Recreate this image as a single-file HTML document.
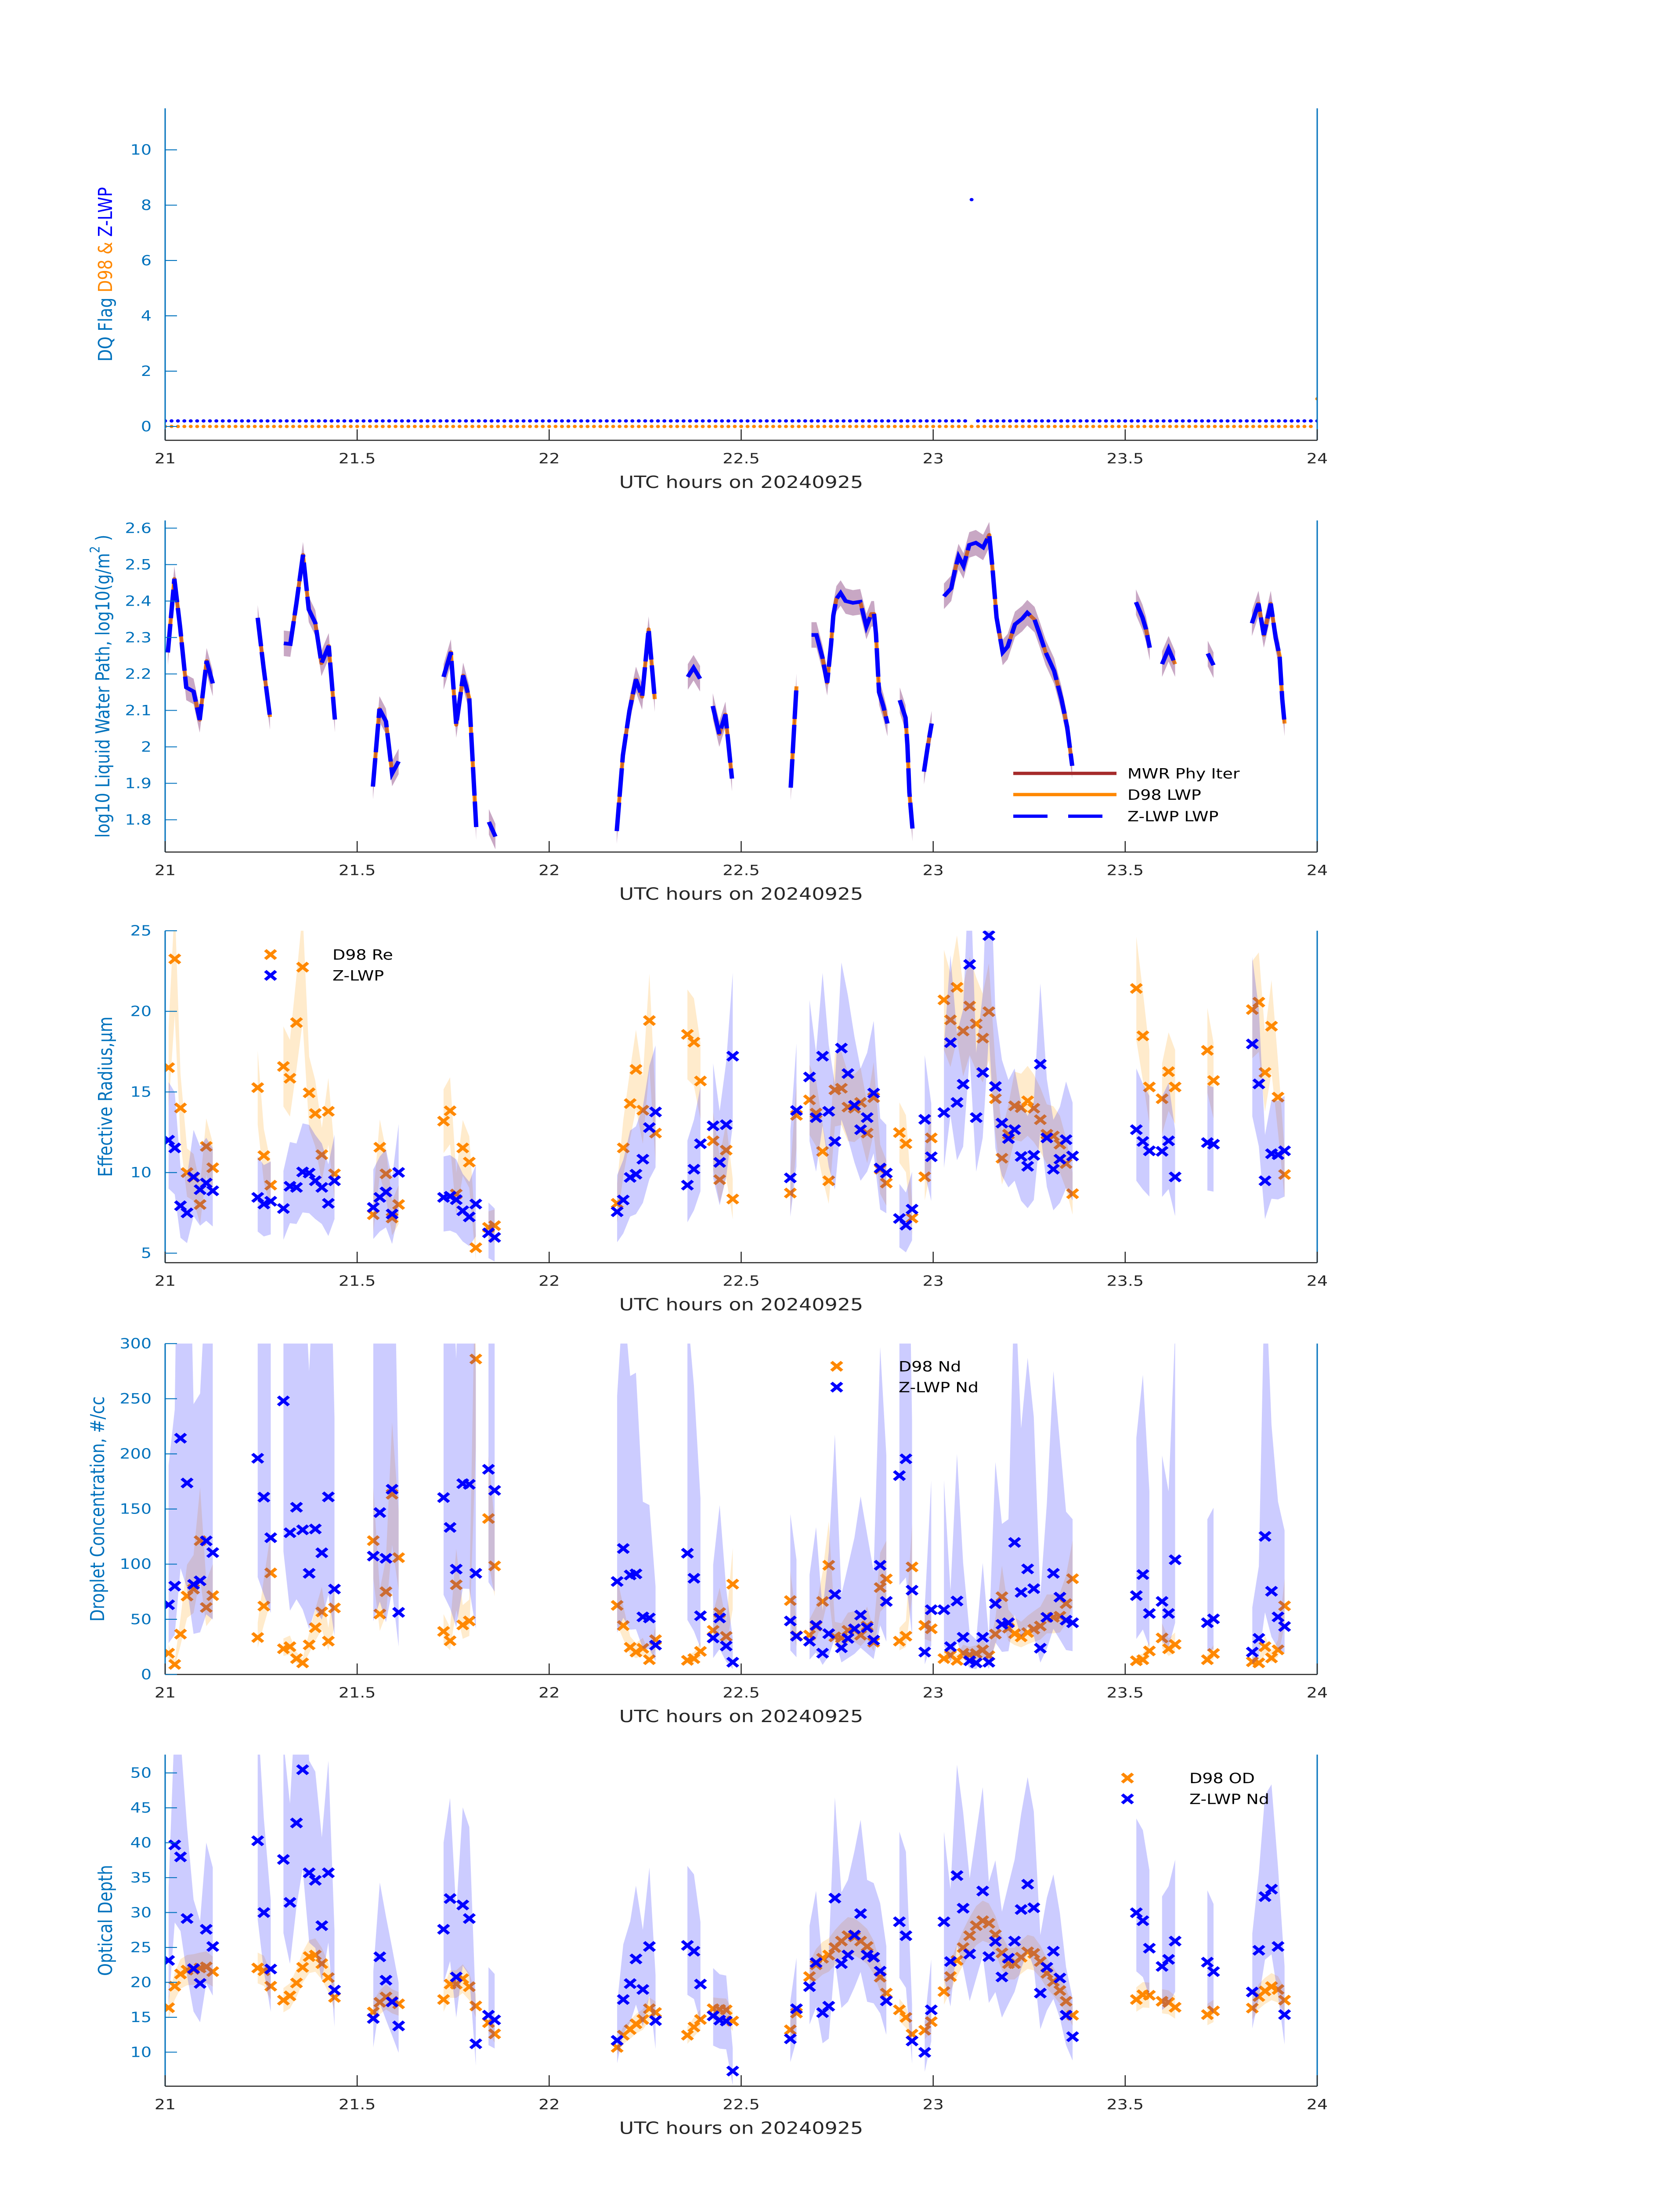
<!DOCTYPE html>
<html><head><meta charset="utf-8">
<style>
html,body{margin:0;padding:0;background:#fff;width:100%;height:100%;overflow:hidden;}
svg{display:block;position:absolute;left:0;top:0;width:100vw;height:100vh;}
text{font-family:"DejaVu Sans","Liberation Sans",sans-serif;}
</style></head>
<body>
<svg id="fig" xmlns="http://www.w3.org/2000/svg" viewBox="0 0 3825 6000" preserveAspectRatio="none">
<rect x="0" y="0" width="3825" height="6000" fill="#fff"/>
</svg>
<script>
// ---------- DATA ----------
const xTicks = [21, 21.5, 22, 22.5, 23, 23.5, 24];
const xTickLabels = ['21','21.5','22','22.5','23','23.5','24'];

// Panel 1: DQ flags, one per minute 21:00-24:00
const dqD98 = [0,0,0,0,0,0,0,0,0,0,0,0,0,0,0,0,0,0,0,0,
0,0,0,0,0,0,0,0,0,0,0,0,0,0,0,0,0,0,0,0,
0,0,0,0,0,0,0,0,0,0,0,0,0,0,0,0,0,0,0,0,
0,0,0,0,0,0,0,0,0,0,0,0,0,0,0,0,0,0,0,0,
0,0,0,0,0,0,0,0,0,0,0,0,0,0,0,0,0,0,0,0,
0,0,0,0,0,0,0,0,0,0,0,0,0,0,0,0,0,0,0,0,
0,0,0,0,0,0,0,0,0,0,0,0,0,0,0,0,0,0,0,0,
0,0,0,0,0,0,0,0,0,0,0,0,0,0,0,0,0,0,0,0,
0,0,0,0,0,0,0,0,0,0,0,0,0,0,0,0,0,0,0,0,1];
const dqZ = [0.2,0.2,0.2,0.2,0.2,0.2,0.2,0.2,0.2,0.2,0.2,0.2,0.2,0.2,0.2,0.2,0.2,0.2,0.2,0.2,
0.2,0.2,0.2,0.2,0.2,0.2,0.2,0.2,0.2,0.2,0.2,0.2,0.2,0.2,0.2,0.2,0.2,0.2,0.2,0.2,
0.2,0.2,0.2,0.2,0.2,0.2,0.2,0.2,0.2,0.2,0.2,0.2,0.2,0.2,0.2,0.2,0.2,0.2,0.2,0.2,
0.2,0.2,0.2,0.2,0.2,0.2,0.2,0.2,0.2,0.2,0.2,0.2,0.2,0.2,0.2,0.2,0.2,0.2,0.2,0.2,
0.2,0.2,0.2,0.2,0.2,0.2,0.2,0.2,0.2,0.2,0.2,0.2,0.2,0.2,0.2,0.2,0.2,0.2,0.2,0.2,
0.2,0.2,0.2,0.2,0.2,0.2,0.2,0.2,0.2,0.2,0.2,0.2,0.2,0.2,0.2,0.2,0.2,0.2,0.2,0.2,
0.2,0.2,0.2,0.2,0.2,0.2,8.2,0.2,0.2,0.2,0.2,0.2,0.2,0.2,0.2,0.2,0.2,0.2,0.2,0.2,
0.2,0.2,0.2,0.2,0.2,0.2,0.2,0.2,0.2,0.2,0.2,0.2,0.2,0.2,0.2,0.2,0.2,0.2,0.2,0.2,
0.2,0.2,0.2,0.2,0.2,0.2,0.2,0.2,0.2,0.2,0.2,0.2,0.2,0.2,0.2,0.2,0.2,0.2,0.2,0.2,0.2];

// Panel 2: log10 LWP
const lwpTimes = [21.007,21.024,21.039,21.055,21.074,21.090,21.108,21.124,
21.241,21.256,21.273,
21.309,21.326,21.342,21.359,21.374,21.391,21.407,21.426,21.442,
21.541,21.558,21.575,21.591,21.608,
21.725,21.744,21.758,21.776,21.792,21.810,
21.843,21.860,
22.176,22.192,22.209,22.226,22.242,22.259,22.275,
22.361,22.376,22.393,
22.426,22.443,22.459,22.476,
22.629,22.644,
22.683,22.696,22.712,22.724,22.734,22.740,22.748,22.759,22.772,22.791,22.810,22.826,22.839,22.846,22.851,22.859,22.870,22.881,
22.913,22.928,22.933,22.938,22.946,
22.976,22.987,22.996,
23.028,23.047,23.057,23.066,23.079,23.094,23.111,23.130,23.146,23.155,23.165,23.181,23.194,23.213,23.232,23.245,23.264,23.277,23.293,23.315,23.334,23.349,23.362,
23.528,23.545,23.554,23.564,
23.596,23.613,23.630,
23.715,23.730,
23.830,23.847,23.861,23.879,23.892,23.902,23.909,23.915];
const lwpValues = [2.259,2.461,2.328,2.163,2.152,2.074,2.236,2.174,
2.354,2.220,2.082,
2.284,2.282,2.395,2.527,2.377,2.340,2.229,2.277,2.075,
1.891,2.104,2.070,1.927,1.960,
2.192,2.260,2.060,2.196,2.133,1.780,
1.794,1.754,
1.769,1.977,2.099,2.185,2.137,2.323,2.131,
2.192,2.217,2.187,
2.112,2.035,2.089,1.913,
1.888,2.166,
2.307,2.307,2.243,2.176,2.281,2.361,2.406,2.422,2.400,2.395,2.398,2.330,2.365,2.365,2.310,2.150,2.112,2.064,
2.128,2.080,2.003,1.875,1.776,
1.932,2.009,2.064,
2.413,2.435,2.486,2.522,2.496,2.554,2.560,2.547,2.582,2.483,2.355,2.259,2.275,2.336,2.352,2.368,2.349,2.310,2.259,2.208,2.131,2.054,1.948,
2.397,2.355,2.323,2.272,
2.227,2.269,2.227,
2.256,2.224,
2.339,2.393,2.307,2.393,2.298,2.250,2.131,2.064];
const lwpUncert = 0.035;

// Panels 3-5 shared sample times
const retTimes = [21.009,21.025,21.040,21.057,21.074,21.091,21.107,21.124,
21.241,21.257,21.275,
21.308,21.325,21.342,21.358,21.375,21.391,21.408,21.425,21.441,
21.542,21.559,21.575,21.591,21.608,
21.725,21.742,21.758,21.775,21.792,21.809,
21.842,21.858,
22.177,22.193,22.211,22.226,22.244,22.261,22.277,
22.360,22.377,22.394,
22.427,22.444,22.461,22.478,
22.628,22.644,
22.678,22.695,22.712,22.728,22.744,22.761,22.778,22.795,22.811,22.828,22.845,22.862,22.878,
22.912,22.929,22.945,
22.978,22.995,
23.028,23.045,23.062,23.078,23.095,23.112,23.129,23.145,23.162,23.179,23.196,23.212,23.229,23.246,23.262,23.279,23.296,23.313,23.330,23.346,23.363,
23.529,23.546,23.563,
23.596,23.613,23.630,
23.714,23.730,
23.831,23.848,23.864,23.881,23.898,23.915];

const reD98 = [16.51,23.25,14.01,10.00,9.70,8.02,11.62,10.30,
15.27,11.05,9.22,
16.58,15.85,19.30,22.74,14.95,13.66,11.11,13.80,9.92,
7.39,11.57,9.92,7.18,8.02,
13.19,13.83,8.67,11.53,10.65,5.34,
6.60,6.71,
8.09,11.53,14.28,16.40,13.87,19.43,12.45,
18.57,18.09,15.68,
11.97,9.56,11.39,8.36,
8.73,13.55,
14.51,13.69,11.31,9.49,15.13,15.23,14.06,13.99,14.35,12.45,14.65,10.21,9.35,
12.48,11.79,7.18,
9.74,12.15,
20.71,19.47,21.49,18.78,20.33,19.23,18.34,19.98,14.58,10.89,12.38,14.14,14.03,14.45,13.99,13.28,12.38,12.27,11.76,10.56,8.69,
21.42,18.48,15.31,
14.58,16.26,15.31,
17.58,15.71,
20.11,20.57,16.21,19.08,14.68,9.88];
const reZ = [12.01,11.53,7.94,7.50,9.73,8.94,9.35,8.87,
8.46,8.05,8.22,
7.77,9.15,9.08,10.04,9.97,9.49,9.08,8.09,9.49,
7.84,8.46,8.80,7.43,10.01,
8.46,8.53,8.32,7.63,7.25,8.05,
6.26,5.98,
7.57,8.30,9.70,9.90,10.83,12.79,13.76,
9.22,10.21,11.79,
12.90,10.63,12.97,17.22,
9.67,13.85,
15.93,13.41,17.22,13.80,11.93,17.72,16.14,14.17,12.66,13.41,14.93,10.28,9.97,
7.15,6.74,7.73,
13.30,10.98,
13.72,18.06,14.35,15.48,22.91,13.41,16.21,24.70,15.34,13.07,12.11,12.66,11.00,10.39,11.07,16.72,12.15,10.21,10.83,12.04,11.03,
12.66,11.93,11.35,
11.32,11.97,9.73,
11.86,11.76,
17.98,15.50,9.49,11.17,11.11,11.35];

const ndD98 = [19.3,9.1,36.6,71.1,77.4,121.3,60.7,71.5,
33.5,62.0,92.1,
23.3,25.2,14.4,10.5,26.8,42.4,56.7,30.2,60.3,
121.3,54.8,75.0,163.4,105.9,
39.0,30.5,81.3,44.9,48.5,286.0,
141.4,98.4,
62.6,44.3,24.6,20.3,23.7,13.4,31.5,
12.8,14.4,20.9,
40.0,56.1,34.5,81.9,
67.0,35.1,
35.7,43.9,66.2,99.0,34.1,33.1,40.0,41.0,35.7,43.9,29.2,78.8,86.6,
30.2,34.7,97.5,
44.5,41.4,
14.4,17.4,12.8,19.3,17.8,19.0,22.3,17.0,36.6,70.5,42.0,37.0,34.1,38.0,41.0,43.9,51.8,51.8,52.8,64.2,86.8,
12.4,13.4,21.3,
33.1,23.3,27.2,
13.4,19.0,
11.5,10.5,25.2,15.0,22.3,62.2];
const ndZ = [63.2,80.1,214.2,173.6,81.7,84.9,121.1,110.5,
196.0,160.8,124.0,
248.0,128.5,151.6,131.1,91.7,131.9,110.3,161.0,77.4,
107.3,146.8,105.3,167.9,56.3,
160.4,133.3,95.5,173.0,172.4,91.7,
186.0,166.9,
84.3,114.2,90.2,91.2,52.2,51.2,26.6,
109.9,87.2,53.2,
33.1,51.2,25.8,11.1,
48.5,34.7,
30.1,44.5,19.3,37.0,72.5,24.2,32.7,41.4,53.8,42.4,31.1,99.0,66.2,
180.3,195.5,76.4,
20.3,58.7,
58.7,25.2,66.6,33.7,12.4,10.5,33.7,11.1,64.2,45.5,46.9,119.7,74.4,95.7,77.8,23.8,51.8,91.7,70.1,49.2,46.9,
71.5,90.6,55.3,
66.2,55.3,104.0,
46.9,50.4,
20.3,32.7,125.2,75.4,52.2,43.5];

const odD98 = [16.37,19.45,21.20,21.75,21.85,22.06,22.22,21.54,
22.06,21.66,19.45,
17.45,18.06,19.91,22.15,23.69,23.91,22.68,20.68,17.85,
15.75,17.14,17.91,17.29,16.92,
17.54,19.75,19.75,20.52,19.38,16.62,
14.22,12.62,
10.68,12.43,13.23,14.06,14.68,16.22,15.69,
12.43,13.60,14.68,
16.22,16.12,16.06,14.46,
13.20,15.60,
20.83,22.52,23.45,23.91,24.98,25.91,26.68,26.52,25.91,25.14,23.60,20.74,18.46,
16.06,14.98,12.58,
13.14,14.37,
18.68,20.83,23.14,24.98,26.68,28.12,28.83,28.46,26.83,24.22,22.68,22.68,23.60,24.37,24.15,22.98,21.29,20.12,18.83,17.29,15.29,
17.54,18.22,18.15,
17.29,17.14,16.43,
15.38,15.91,
16.31,17.97,18.77,19.39,18.98,17.45];
const odZ = [23.14,39.69,37.97,29.14,21.97,19.85,27.60,25.14,
40.28,30.00,21.91,
37.60,31.45,42.83,50.46,35.69,34.61,28.12,35.69,18.89,
14.83,23.66,20.31,17.20,13.76,
27.60,32.00,20.77,31.08,29.14,11.20,
15.29,14.62,
11.69,17.54,19.82,23.35,18.98,25.14,14.52,
25.29,24.46,19.75,
15.20,14.59,14.46,7.29,
11.91,16.22,
19.39,22.83,15.66,16.58,32.06,22.68,23.91,26.77,29.85,23.91,23.60,21.60,17.35,
28.68,26.68,11.60,
9.97,16.06,
28.68,22.98,35.29,30.62,24.06,null,33.08,23.69,25.85,20.77,23.45,25.91,30.43,34.06,30.68,18.46,22.15,24.46,20.62,15.29,12.22,
29.97,28.83,24.89,
22.28,23.29,25.91,
22.89,21.54,
18.62,24.59,32.28,33.35,25.14,15.38];

// relative uncertainty factors (lower, upper)
const reD98Unc = [0.85, 1.15], reZUnc = [0.75, 1.3];
const ndD98Unc = [0.72, 1.4], ndZUnc = [0.45, 3.0];
const odD98Unc = [0.9, 1.1], odZUnc = [0.72, 1.45];

// ---------- DRAWING ----------
const NS = 'http://www.w3.org/2000/svg';
const svg = document.getElementById('fig');
const X0 = 376, X1 = 2999;
function sx(t){ return X0 + (t - 21) * (X1 - X0) / 3; }
function mk(tag, attrs, parent){
  const e = document.createElementNS(NS, tag);
  for (const k in attrs) e.setAttribute(k, attrs[k]);
  (parent || svg).appendChild(e);
  return e;
}
const AXBLUE = '#0072BD', DARK = '#262626', ORANGE = '#FF8800', BLUE = '#0000FF';

function makePanel(name, top, bottom, vmin, vmax, yticks, ytickLabels, titleX, titleParts){
  const g = mk('g', {});
  
  
  const sy = v => bottom - (v - vmin) * (bottom - top) / (vmax - vmin);
  const cid = name + '-clip';
  const cp = mk('clipPath', {id: cid}, g);
  mk('rect', {x: X0, y: top, width: X1 - X0, height: bottom - top}, cp);
  const plot = mk('g', {'clip-path': 'url(#' + cid + ')'}, g);
  
  
  const axes = mk('g', {}, g);
  
  
  const bl = mk('line', {x1: X0, y1: bottom, x2: X1, y2: bottom, stroke: DARK, 'stroke-width': 3}, axes);
  
  
  const ll = mk('line', {x1: X0, y1: top, x2: X0, y2: bottom, stroke: AXBLUE, 'stroke-width': 3}, axes);
  
  
  const rl = mk('line', {x1: X1, y1: top, x2: X1, y2: bottom, stroke: AXBLUE, 'stroke-width': 3}, axes);
  
  
  xTicks.forEach((t, i) => {
    const x = sx(t);
    const tk = mk('line', {x1: x, y1: bottom, x2: x, y2: bottom - 30, stroke: DARK, 'stroke-width': 2.5}, axes);
    
    
    const tl = mk('text', {x: x, y: bottom + 63, 'font-size': 38, fill: DARK, 'text-anchor': 'middle'}, axes);
    tl.textContent = xTickLabels[i];
    
    
  });
  yticks.forEach((v, i) => {
    const y = sy(v);
    const tk = mk('line', {x1: X0, y1: y, x2: X0 + 27, y2: y, stroke: AXBLUE, 'stroke-width': 2.5}, axes);
    
    
    const tl = mk('text', {x: 345, y: y + 13, 'font-size': 38, fill: AXBLUE, 'text-anchor': 'end'}, axes);
    tl.textContent = ytickLabels[i];
    
    
  });
  const xt = mk('text', {x: (X0 + X1) / 2, y: bottom + 130, 'font-size': 46, fill: DARK, 'text-anchor': 'middle'}, axes);
  xt.textContent = 'UTC hours on 20240925';
  
  
  const cy = (top + bottom) / 2;
  const yt = mk('text', {x: titleX, y: cy, 'font-size': 44, 'text-anchor': 'middle', 'dominant-baseline': 'central', transform: 'rotate(-90 ' + titleX + ' ' + cy + ')'}, axes);
  
  
  titleParts.forEach(p => {
    const ts = mk('tspan', {fill: p[1]}, yt);
    if (p[2]) ts.setAttribute('baseline-shift', 'super');
    if (p[2]) ts.setAttribute('font-size', '30');
    ts.textContent = p[0];
  });
  return {g, plot, sy};
}

function segments(times){
  const segs = []; let cur = [];
  times.forEach((t, i) => {
    if (cur.length && t - times[cur[cur.length - 1]] > 0.026) { segs.push(cur); cur = []; }
    cur.push(i);
  });
  if (cur.length) segs.push(cur);
  return segs;
}

function band(parent, times, vals, loF, hiF, fill, sy, name){
  segments(times).forEach(seg => {
    const idx = seg.filter(i => vals[i] != null);
    if (!idx.length) return;
    let up = [], dn = [];
    idx.forEach(i => { up.push(sx(times[i]) + ',' + sy(vals[i] * hiF)); dn.push(sx(times[i]) + ',' + sy(vals[i] * loF)); });
    if (idx.length === 1) { const x = sx(times[idx[0]]); up = [(x-4)+','+sy(vals[idx[0]]*hiF),(x+4)+','+sy(vals[idx[0]]*hiF)]; dn = [(x-4)+','+sy(vals[idx[0]]*loF),(x+4)+','+sy(vals[idx[0]]*loF)]; }
    const p = mk('polygon', {points: up.concat(dn.reverse()).join(' '), fill: fill}, parent);
    
    
  });
}

function crosses(parent, times, vals, color, sy, name){
  times.forEach((t, i) => {
    if (vals[i] == null) return;
    const x = sx(t), y = sy(vals[i]), r = 12;
    const p = mk('path', {d: 'M' + (x - r) + ' ' + (y - r) + 'L' + (x + r) + ' ' + (y + r) + 'M' + (x - r) + ' ' + (y + r) + 'L' + (x + r) + ' ' + (y - r), stroke: color, 'stroke-width': 8, fill: 'none'}, parent);
    
    
  });
}

function legendMarker(parent, x, y, color, label, tx){
  const r = 12;
  const p = mk('path', {d: 'M' + (x - r) + ' ' + (y - r) + 'L' + (x + r) + ' ' + (y + r) + 'M' + (x - r) + ' ' + (y + r) + 'L' + (x + r) + ' ' + (y - r), stroke: color, 'stroke-width': 8, fill: 'none'}, parent);
  
  
  const t = mk('text', {x: tx, y: y + 14, 'font-size': 38, fill: '#000'}, parent);
  t.textContent = label;
  
  
}

// ---- Panel 1 ----
(function(){
  const P = makePanel('dq-flag-panel', 296, 1203, -0.5, 11.5, [0,2,4,6,8,10], ['0','2','4','6','8','10'], 240,
    [['DQ Flag  ', AXBLUE], ['D98 & ', ORANGE], [' Z-LWP', BLUE]]);
  dqD98.forEach((v, i) => {
    const c = mk('circle', {cx: sx(21 + i / 60), cy: P.sy(v), r: 4.5, fill: ORANGE}, P.plot);
    
    
  });
  dqZ.forEach((v, i) => {
    const c = mk('circle', {cx: sx(21 + i / 60), cy: P.sy(v), r: 4.5, fill: BLUE}, P.plot);
    
    
  });
})();

// ---- Panel 2 ----
(function(){
  const vmin = 2.6 - (2328 - 1443) / 996, vmax = 2.6 + (1443 - 1422) / 996;
  const P = makePanel('lwp-panel', 1422, 2328, vmin, vmax, [1.8,1.9,2,2.1,2.2,2.3,2.4,2.5,2.6], ['1.8','1.9','2','2.1','2.2','2.3','2.4','2.5','2.6'], 234,
    [['log10 Liquid Water Path, log10(g/m', AXBLUE], ['2', AXBLUE, true], [' )', AXBLUE]]);
  const sy = P.sy;
  const segs = segments(lwpTimes);
  segs.forEach(seg => {
    const pts = seg.map(i => sx(lwpTimes[i]) + ',' + sy(lwpValues[i])).join(' ');
    const o = mk('polyline', {points: pts, fill: 'none', stroke: ORANGE, 'stroke-width': 9, 'stroke-linejoin': 'round'}, P.plot);
    
    
  });
  segs.forEach(seg => {
    let up = [], dn = [];
    seg.forEach(i => { up.push(sx(lwpTimes[i]) + ',' + sy(lwpValues[i] + lwpUncert)); dn.push(sx(lwpTimes[i]) + ',' + sy(lwpValues[i] - lwpUncert)); });
    const p = mk('polygon', {points: up.concat(dn.reverse()).join(' '), fill: 'rgba(125,45,115,0.42)'}, P.plot);
    
    
  });
  segs.forEach(seg => {
    const pts = seg.map(i => sx(lwpTimes[i]) + ',' + sy(lwpValues[i])).join(' ');
    const b = mk('polyline', {points: pts, fill: 'none', stroke: BLUE, 'stroke-width': 10, 'stroke-dasharray': '78 16'}, P.plot);
    
    
  });
  const lg = mk('g', {});
  
  
  const l1 = mk('line', {x1: 2307, y1: 2113, x2: 2542, y2: 2113, stroke: '#A52A2A', 'stroke-width': 9}, lg);
  
  
  const l2 = mk('line', {x1: 2307, y1: 2171, x2: 2542, y2: 2171, stroke: ORANGE, 'stroke-width': 9}, lg);
  
  
  const l3 = mk('line', {x1: 2307, y1: 2230, x2: 2542, y2: 2230, stroke: BLUE, 'stroke-width': 9, 'stroke-dasharray': '78 47'}, lg);
  
  
  [['MWR Phy Iter', 2113], ['D98 LWP', 2171], ['Z-LWP LWP', 2230]].forEach(e => {
    const t = mk('text', {x: 2567, y: e[1] + 14, 'font-size': 38, fill: '#000'}, lg);
    t.textContent = e[0];
    
    
  });
})();

// ---- Scatter panels ----
function scatterPanel(name, top, bottom, vmin, vmax, ticks, labels, titleX, title, d98, z, d98U, zU, legend){
  const P = makePanel(name, top, bottom, vmin, vmax, ticks, labels, titleX, [[title, AXBLUE]]);
  band(P.plot, retTimes, d98, d98U[0], d98U[1], 'rgba(255,153,0,0.2)', P.sy, 'd98-uncertainty-band');
  crosses(P.plot, retTimes, d98, ORANGE, P.sy, 'd98-point');
  band(P.plot, retTimes, z, zU[0], zU[1], 'rgba(0,0,255,0.2)', P.sy, 'zlwp-uncertainty-band');
  crosses(P.plot, retTimes, z, BLUE, P.sy, 'zlwp-point');
  const lg = mk('g', {});
  
  
  legendMarker(lg, legend[0], legend[1], ORANGE, legend[3], legend[0] + 141);
  legendMarker(lg, legend[0], legend[2], BLUE, legend[4], legend[0] + 141);
}
scatterPanel('effective-radius-panel', 2543, 3450, 25 - (3450 - 2543) / 44.05, 25,
  [5,10,15,20,25], ['5','10','15','20','25'], 240, 'Effective Radius,\u03bcm',
  reD98, reZ, reD98Unc, reZUnc, [616, 2608, 2665, 'D98 Re', 'Z-LWP']);
scatterPanel('droplet-concentration-panel', 3671, 4575, 0, 300,
  [0,50,100,150,200,250,300], ['0','50','100','150','200','250','300'], 222, 'Droplet Concentration, #/cc',
  ndD98, ndZ, ndD98Unc, ndZUnc, [1905, 3733, 3790, 'D98 Nd', 'Z-LWP Nd']);
scatterPanel('optical-depth-panel', 4794, 5700, 50 - (5700 - 4844) / 19.075, 50 + (4844 - 4794) / 19.075,
  [10,15,20,25,30,35,40,45,50], ['10','15','20','25','30','35','40','45','50'], 240, 'Optical Depth',
  odD98, odZ, odD98Unc, odZUnc, [2567, 4858, 4915, 'D98 OD', 'Z-LWP Nd']);
</script>
</body></html>
